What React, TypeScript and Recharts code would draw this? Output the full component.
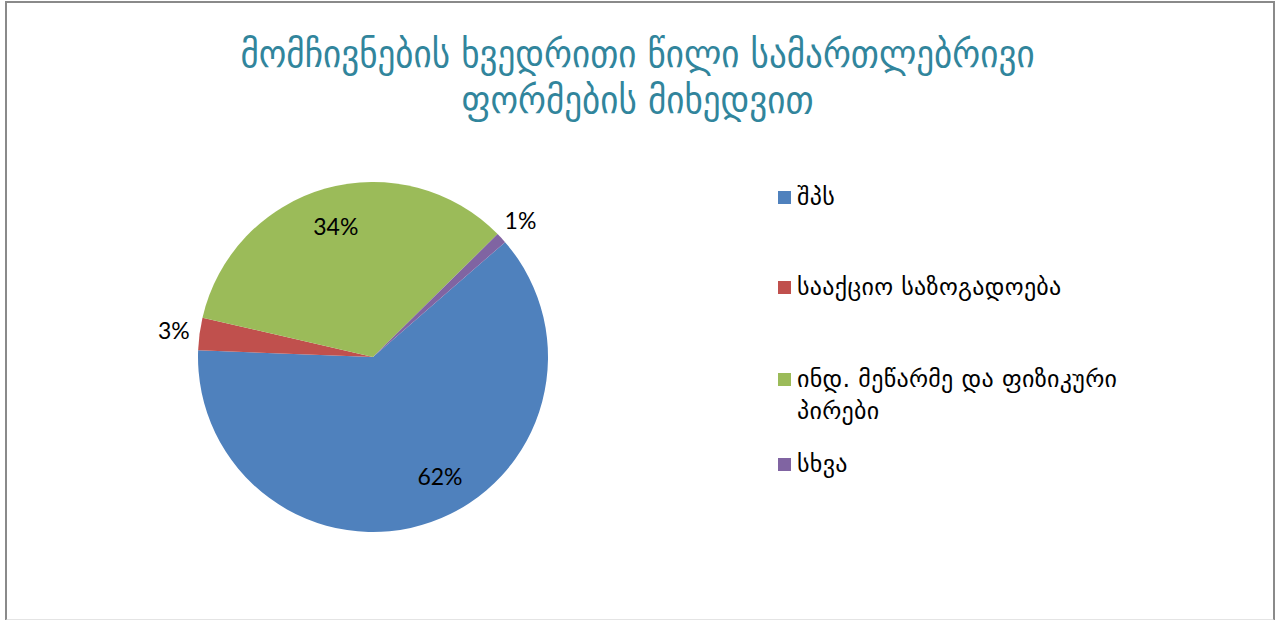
import { PieChart, Pie, Cell, Legend } from "recharts";

const categories = ["შპს", "სააქციო საზოგადოება", "ინდ. მეწარმე და ფიზიკური პირები", "სხვა"];
const shares = [62, 3, 34, 1];
const colors = ["#4F81BD", "#C0504D", "#9BBB59", "#8064A2"];
const titleLines = ["მომჩივნების ხვედრითი წილი სამართლებრივი", "ფორმების მიხედვით"];

const chartData = categories.map((name, i) => ({ name, value: shares[i] }));

const RAD = Math.PI / 180;

function renderLabel(props: any) {
  const { cx, cy, midAngle, outerRadius, percent } = props;
  const outside = percent < 0.05;
  const r = outside ? outerRadius + 26 : outerRadius * 0.78;
  // best-fit style nudge for the big slice
  const shift = percent > 0.5 ? 10 : 0;
  const x = cx + r * Math.cos(-(midAngle + shift) * RAD);
  const y = cy + r * Math.sin(-(midAngle + shift) * RAD);
  return (
    <text
      x={x}
      y={y}
      textAnchor="middle"
      dominantBaseline="central"
      fill="#000"
      fontSize={23}
      fontFamily="Lato, 'Open Sans', sans-serif"
    >
      {`${Math.round(percent * 100)}%`}
    </text>
  );
}

function LegendBox(props: any) {
  const items = [...(props.payload || [])].sort(
    (a: any, b: any) => categories.indexOf(a.value) - categories.indexOf(b.value)
  );
  const tops = [180, 270, 362, 447];
  return (
    <div style={{ position: "relative", width: 360, height: 320 }}>
      {items.map((it: any, i: number) => (
        <div
          key={i}
          style={{
            position: "absolute",
            left: 0,
            top: tops[i] - 180,
            display: "flex",
            alignItems: "flex-start",
            fontFamily: "'DejaVu Sans', sans-serif",
            fontSize: 24,
            letterSpacing: 0.3,
            lineHeight: "32px",
            color: "#000",
            width: 365,
          }}
        >
          <span
            style={{
              display: "inline-block",
              width: 13,
              height: 13,
              background: it.color,
              marginTop: 10,
              marginRight: 6,
              flexShrink: 0,
            }}
          />
          <span>{it.value}</span>
        </div>
      ))}
    </div>
  );
}

export default function App() {
  return (
    <div
      style={{
        position: "absolute",
        left: 0,
        top: 0,
        width: 1275,
        height: 620,
        background: "#fff",
        overflow: "hidden",
      }}
    >
      <div
        style={{
          position: "absolute",
          left: 5,
          top: 1,
          width: 1266,
          height: 616,
          border: "2px solid #8a8a8a",
          borderBottom: "2px solid #e4e4e4",
        }}
      />
      <div
        style={{
          position: "absolute",
          left: 0,
          top: 31,
          width: 1275,
          textAlign: "center",
          color: "#31859C",
          fontFamily: "'DejaVu Sans Condensed', 'DejaVu Sans', sans-serif",
          fontSize: 39,
          lineHeight: "46px",
        }}
      >
        {titleLines.map((t, i) => (
          <div key={i}>{t}</div>
        ))}
      </div>
      <div style={{ position: "absolute", left: 0, top: 0 }}>
        <PieChart width={1275} height={620} margin={{ top: 0, right: 0, bottom: 0, left: 0 }}>
          <Pie
            data={chartData}
            dataKey="value"
            nameKey="name"
            cx={373}
            cy={357}
            outerRadius={175}
            startAngle={41}
            endAngle={-319}
            stroke="none"
            label={renderLabel}
            labelLine={false}
            isAnimationActive={false}
          >
            {chartData.map((d, i) => (
              <Cell key={d.name} fill={colors[i]} />
            ))}
          </Pie>
          <Legend
            content={<LegendBox />}
            wrapperStyle={{ position: "absolute", left: 778, top: 181, width: 380 }}
          />
        </PieChart>
      </div>
    </div>
  );
}
